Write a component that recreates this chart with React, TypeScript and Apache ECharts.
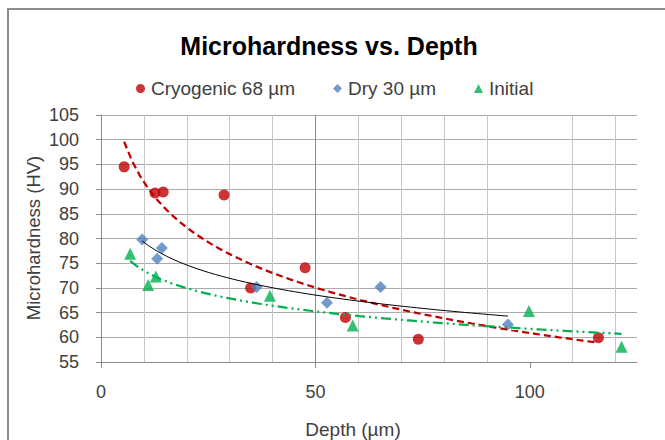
import React, { useEffect, useRef } from "react";
import * as echarts from "echarts";

// Data
const cryoDepth = [5.4, 12.6, 14.5, 28.7, 34.9, 47.6, 57.0, 74.0, 116.0];
const cryoHV = [94.5, 89.2, 89.4, 88.8, 70.0, 74.1, 64.0, 59.6, 59.9];
const dryDepth = [9.6, 13.1, 14.2, 36.3, 52.7, 65.2, 94.9];
const dryHV = [79.8, 75.9, 78.1, 70.2, 67.0, 70.2, 62.6];
const initDepth = [6.8, 11.0, 12.8, 39.4, 58.7, 99.8, 121.4];
const initHV = [76.9, 70.6, 72.3, 68.4, 62.4, 65.3, 58.1];

const seriesNames = ["Cryogenic 68 µm", "Dry 30 µm", "Initial"];
const xTickLabels = [0, 50, 100];

// Logarithmic least-squares trendline (as the spreadsheet trendline does)
function logTrend(xs: number[], ys: number[], steps = 60): number[][] {
  const lx = xs.map((x) => Math.log(x));
  const n = xs.length;
  const mx = lx.reduce((s, v) => s + v, 0) / n;
  const my = ys.reduce((s, v) => s + v, 0) / n;
  let sxy = 0;
  let sxx = 0;
  for (let i = 0; i < n; i++) {
    sxy += (lx[i] - mx) * (ys[i] - my);
    sxx += (lx[i] - mx) * (lx[i] - mx);
  }
  const b = sxy / sxx;
  const a = my - b * mx;
  const x0 = Math.min(...xs);
  const x1 = Math.max(...xs);
  const pts: number[][] = [];
  for (let i = 0; i <= steps; i++) {
    const x = x0 + ((x1 - x0) * i) / steps;
    pts.push([x, a + b * Math.log(x)]);
  }
  return pts;
}

const zip = (xs: number[], ys: number[]) => xs.map((x, i) => [x, ys[i]]);

export default function App() {
  const ref = useRef<HTMLDivElement>(null);
  useEffect(() => {
    if (!ref.current) return;
    const chart = echarts.init(ref.current, undefined, { renderer: "svg" });
    const font = "Liberation Sans, Arial, sans-serif";
    const labelColor = "#404040";
    chart.setOption({
      animation: false,
      backgroundColor: "#ffffff",
      textStyle: { fontFamily: font },
      title: {
        text: "Microhardness vs. Depth",
        left: 324,
        textAlign: "center",
        top: 28,
        textStyle: { fontSize: 25, fontWeight: "bold", color: "#000", fontFamily: font },
      },
      legend: {
        data: [
          { name: seriesNames[0], icon: "circle" },
          { name: seriesNames[1], icon: "diamond" },
          { name: seriesNames[2], icon: "triangle" },
        ],
        left: 131,
        top: 74,
        itemWidth: 9,
        itemHeight: 9,
        itemGap: 38,
        textStyle: { fontSize: 19, color: labelColor, fontFamily: font, padding: [0, 0, 0, 1] },
      },
      graphic: [
        {
          type: "rect",
          shape: { x: 8, y: 9, width: 700, height: 500 },
          style: { fill: "none", stroke: "#8c8c8c", lineWidth: 2 },
          silent: true,
        },
        {
          type: "text",
          x: 353,
          y: 429,
          style: {
            text: "Depth (µm)",
            fontSize: 19,
            fontFamily: font,
            fill: labelColor,
            textAlign: "center",
            textVerticalAlign: "middle",
          },
        },
        {
          type: "text",
          x: 33,
          y: 238,
          rotation: Math.PI / 2,
          style: {
            text: "Microhardness (HV)",
            fontSize: 18.5,
            fontFamily: font,
            fill: labelColor,
            textAlign: "center",
            textVerticalAlign: "middle",
          },
        },
      ],
      grid: { left: 101, top: 115, right: 28, bottom: 78, containLabel: false },
      xAxis: {
        type: "value",
        min: 0,
        max: 125,
        interval: 50,
        axisLine: { show: true, lineStyle: { color: "#8c8c8c", width: 1 } },
        axisTick: {
          show: true,
          length: 6,
          customValues: xTickLabels,
          lineStyle: { color: "#8c8c8c" },
        },
        axisLabel: {
          customValues: xTickLabels,
          margin: 21,
          fontSize: 18,
          color: labelColor,
          fontFamily: font,
        },
        splitLine: {
          show: true,
          showMinLine: false,
          showMaxLine: false,
          lineStyle: { color: "#8c8c8c", width: 1 },
        },
        minorTick: { show: false, splitNumber: 5 },
        minorSplitLine: { show: true, lineStyle: { color: "#c6c6c6", width: 1 } },
      },
      yAxis: {
        type: "value",
        min: 55,
        max: 105,
        interval: 5,
        axisLine: { show: true, lineStyle: { color: "#8c8c8c", width: 1 } },
        axisTick: { show: true, length: 5, lineStyle: { color: "#8c8c8c" } },
        axisLabel: { margin: 22, fontSize: 18, color: labelColor, fontFamily: font },
        splitLine: { show: true, lineStyle: { color: "#ababab", width: 1 } },
      },
      series: [
        {
          name: seriesNames[0],
          type: "scatter",
          symbol: "circle",
          symbolSize: 11,
          itemStyle: { color: "#c00000" },
          data: zip(cryoDepth, cryoHV),
          z: 3,
        },
        {
          name: seriesNames[1],
          type: "scatter",
          symbol: "diamond",
          symbolSize: 12,
          itemStyle: { color: "#4f81bd" },
          data: zip(dryDepth, dryHV),
          z: 3,
        },
        {
          name: seriesNames[2],
          type: "scatter",
          symbol: "triangle",
          symbolSize: 12,
          itemStyle: { color: "#00b050" },
          data: zip(initDepth, initHV),
          z: 3,
        },
        {
          name: "cryoTrend",
          type: "line",
          showSymbol: false,
          symbol: "none",
          smooth: false,
          data: logTrend(cryoDepth, cryoHV),
          lineStyle: { color: "#c00000", width: 2.25, type: [7, 4] },
          z: 4,
          silent: true,
        },
        {
          name: "dryTrend",
          type: "line",
          showSymbol: false,
          symbol: "none",
          data: logTrend(dryDepth, dryHV),
          lineStyle: { color: "#000000", width: 1 },
          z: 4,
          silent: true,
        },
        {
          name: "initTrend",
          type: "line",
          showSymbol: false,
          symbol: "none",
          data: logTrend(initDepth, initHV),
          lineStyle: { color: "#00b050", width: 2.25, type: [10, 4, 2, 4, 2, 4] },
          z: 4,
          silent: true,
        },
      ],
    });
    return () => chart.dispose();
  }, []);
  return (
    <div
      ref={ref}
      style={{ position: "absolute", left: 0, top: 0, width: 665, height: 440 }}
    />
  );
}
